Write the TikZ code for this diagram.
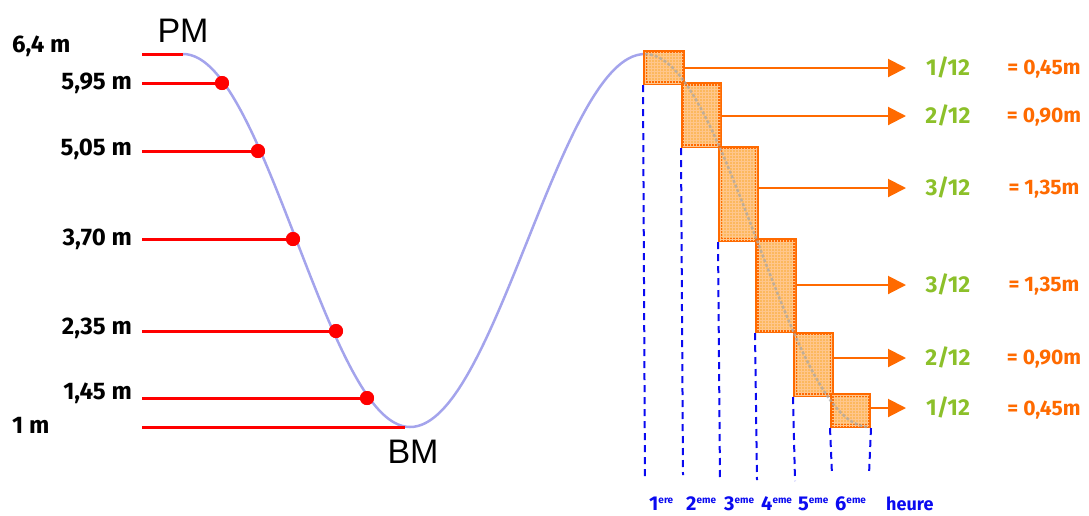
\documentclass[tikz,border=0pt]{standalone}
\usepackage{fontspec}
\setmainfont{Fira Sans}
\newfontfamily\pixfont{Liberation Sans}
\usetikzlibrary{arrows.meta,patterns}
\definecolor{tideblue}{HTML}{A4A4EC}
\definecolor{tred}{HTML}{FF0000}
\definecolor{torange}{HTML}{FF6A00}
\definecolor{tgreen}{HTML}{8CC02A}
\definecolor{boxfill}{HTML}{FCB85E}
\definecolor{dblue}{HTML}{0A0AF0}
\newcommand{\hsup}[1]{\raisebox{7pt}{\fontsize{10}{10}\selectfont #1}}
\begin{document}
\begin{tikzpicture}[x=1pt,y=-1pt,
  lvl/.style={draw=tred,line width=3pt},
  dot/.style={circle,fill=tred,inner sep=0pt,minimum size=14pt},
  hlab/.style={anchor=east,font=\fontsize{24}{28}\selectfont\bfseries,inner sep=0pt},
  tbox/.style={draw=torange,line width=4pt,fill=boxfill,postaction={pattern=grid,pattern color=orange!45!white},inner sep=0pt},
  harrow/.style={draw=torange,line width=2pt,-{Triangle[length=18pt,width=18pt]}},
  frac/.style={text=tgreen,font=\fontsize{23}{26}\selectfont\bfseries,inner sep=0pt},
  res/.style={text=torange,font=\fontsize{21}{24}\selectfont\bfseries,inner sep=0pt},
  vdash/.style={draw=dblue,line width=2pt,dash pattern=on 7pt off 5pt},
  hour/.style={text=dblue,font=\fontsize{20}{24}\selectfont\bfseries,inner sep=0pt,anchor=base west},
  tm/.style={font=\pixfont\fontsize{34}{36}\selectfont,inner sep=0pt}
]
\useasboundingbox (0,0) rectangle (1089,515);
% tide curve
\draw[tideblue,line width=2.5pt] plot[domain=0:1,samples=60,smooth] ({183+227*\x},{240.5-186.5*cos(180*\x)});
\draw[tideblue,line width=2.5pt] plot[domain=0:1,samples=60,smooth] ({410+235*\x},{240.5+186.5*cos(180*\x)});
% PM / BM
\node[tm] (pm) at (183,31) {PM};
\node[tm] (bm) at (413,452) {BM};
% left levels
\coordinate (l0) at (142,54);
\coordinate (e0) at (183,54);
\coordinate (l1) at (142,83);
\coordinate (l2) at (142,151);
\coordinate (l3) at (142,239);
\coordinate (l4) at (142,331);
\coordinate (l5) at (142,398);
\coordinate (l6) at (142,427);
\coordinate (e6) at (405,427);
\node[dot] (d1) at (222,83) {};
\node[dot] (d2) at (258,151) {};
\node[dot] (d3) at (293,239) {};
\node[dot] (d4) at (336,331) {};
\node[dot] (d5) at (367,398) {};
\draw[lvl] (l0) -- (e0);
\draw[lvl] (l1) -- (d1.center);
\draw[lvl] (l2) -- (d2.center);
\draw[lvl] (l3) -- (d3.center);
\draw[lvl] (l4) -- (d4.center);
\draw[lvl] (l5) -- (d5.center);
\draw[lvl] (l6) -- (e6);
\node[dot] at (222,83) {};
\node[dot] at (258,151) {};
\node[dot] at (293,239) {};
\node[dot] at (336,331) {};
\node[dot] at (367,398) {};
\node[hlab,anchor=west] (t0) at (12,46) {6,4 m};
\node[hlab] (t1) at (132,83) {5,95 m};
\node[hlab] (t2) at (132,149) {5,05 m};
\node[hlab] (t3) at (132,239) {3,70 m};
\node[hlab] (t4) at (132,328) {2,35 m};
\node[hlab] (t5) at (132,393) {1,45 m};
\node[hlab,anchor=west] (t6) at (12,425) {1 m};
% boxes
\node[tbox,minimum width=38pt,minimum height=31pt] (b1) at (664,67.5) {};
\node[tbox,minimum width=37pt,minimum height=62pt] (b2) at (701.5,115) {};
\node[tbox,minimum width=37pt,minimum height=92pt] (b3) at (738.5,194) {};
\node[tbox,minimum width=38pt,minimum height=91pt] (b4) at (776,285.5) {};
\node[tbox,minimum width=37pt,minimum height=61pt] (b5) at (813.5,364.5) {};
\node[tbox,minimum width=37pt,minimum height=31pt] (b6) at (850.5,410.5) {};
\draw[gray!70,line width=2.5pt,dash pattern=on 3pt off 2pt,opacity=0.7] plot[domain=0:1,samples=60,smooth] ({645+224*\x},{240.5-186.5*cos(180*\x)});
% arrows
\coordinate (a1) at (906,68);
\coordinate (a2) at (906,116);
\coordinate (a3) at (906,188);
\coordinate (a4) at (906,285);
\coordinate (a5) at (906,358);
\coordinate (a6) at (906,408);
\draw[harrow] (b1.east |- a1) -- (a1);
\draw[harrow] (b2.east |- a2) -- (a2);
\draw[harrow] (b3.east |- a3) -- (a3);
\draw[harrow] (b4.east |- a4) -- (a4);
\draw[harrow] (b5.east |- a5) -- (a5);
\draw[harrow] (b6.east |- a6) -- (a6);
\node[frac] (f1) at (948,67) {1/12};
\node[frac] (f2) at (948,115) {2/12};
\node[frac] (f3) at (948,187) {3/12};
\node[frac] (f4) at (948,284) {3/12};
\node[frac] (f5) at (948,357) {2/12};
\node[frac] (f6) at (948,407) {1/12};
\node[res] (r1) at (1044,69) {= 0,45m};
\node[res] (r2) at (1044,117) {= 0,90m};
\node[res] (r3) at (1044,189) {= 1,35m};
\node[res] (r4) at (1044,286) {= 1,35m};
\node[res] (r5) at (1044,359) {= 0,90m};
\node[res] (r6) at (1044,410) {= 0,45m};
% dashed verticals
\coordinate (v0) at (645,480);
\coordinate (v1) at (683,475);
\coordinate (v2) at (720,481);
\coordinate (v3) at (757,480);
\coordinate (v4) at (795,481);
\coordinate (v5) at (832,475);
\coordinate (v6) at (869,475);
\draw[vdash] (b1.south west) -- (v0);
\draw[vdash] (b2.south west) -- (v1);
\draw[vdash] (b3.south west) -- (v2);
\draw[vdash] (b4.south west) -- (v3);
\draw[vdash] (b5.south west) -- (v4);
\draw[vdash] (b6.south west) -- (v5);
\draw[vdash] (b6.south east) -- (v6);
% hour labels
\node[hour] (h1) at (649,510) {1\hsup{ere}};
\node[hour] (h2) at (686,510) {2\hsup{eme}};
\node[hour] (h3) at (724,510) {3\hsup{eme}};
\node[hour] (h4) at (761,510) {4\hsup{eme}};
\node[hour] (h5) at (798,510) {5\hsup{eme}};
\node[hour] (h6) at (835,510) {6\hsup{eme}};
\node[hour,font=\fontsize{18}{22}\selectfont\bfseries] (h7) at (886,510) {heure};
\end{tikzpicture}
\end{document}
